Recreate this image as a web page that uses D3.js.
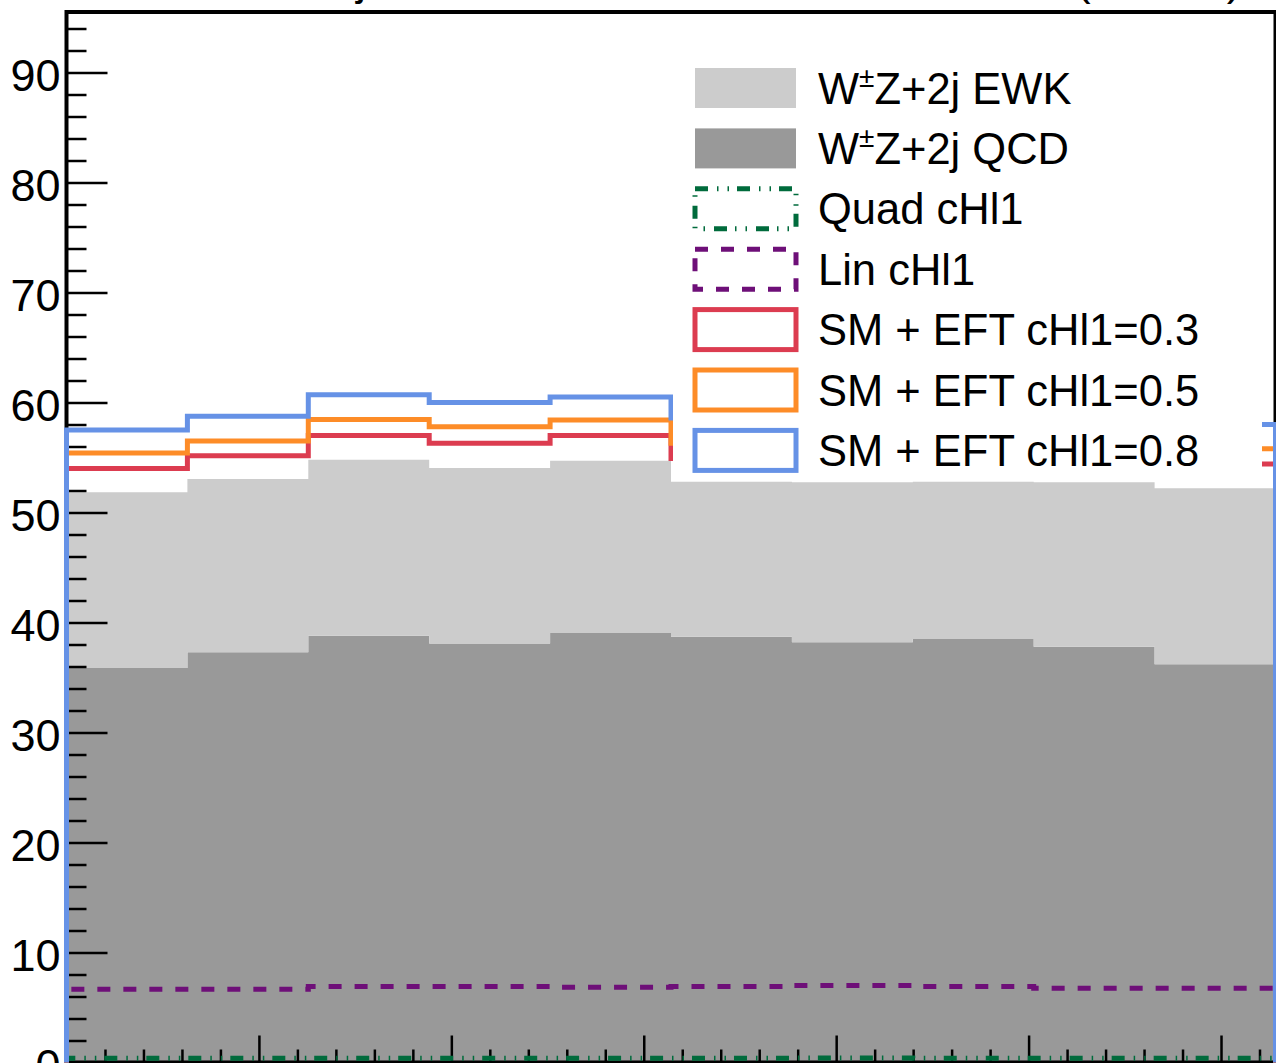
<!DOCTYPE html>
<html>
<head>
<meta charset="utf-8">
<script src="https://cdn.jsdelivr.net/npm/d3@7"></script>
<style>
  html, body { margin: 0; padding: 0; background: #fff; overflow: hidden; }
  svg { display: block; font-family: "Liberation Sans", Arial, Helvetica, sans-serif; }
</style>
</head>
<body>
<svg width="1276" height="1063"></svg>
<script>
// bins in phi, 0 .. 2pi
const nBins = 10;
const xMax = 2 * Math.PI;

const qcd = [35.86, 37.3, 38.8, 38.1, 39.05, 38.7, 38.2, 38.5, 37.8, 36.2];
const ewk = [15.99, 15.75, 16.0, 15.95, 15.65, 14.1, 14.55, 14.3, 14.95, 16.0];
const quad = [0.38, 0.38, 0.39, 0.39, 0.38, 0.39, 0.4, 0.39, 0.38, 0.38];
const lin = [6.65, 6.65, 6.9, 6.9, 6.85, 6.9, 7.0, 6.9, 6.75, 6.75];
const sm03 = [54.0, 55.15, 57.0, 56.3, 57.0, 54.9, 54.9, 54.9, 54.85, 54.4];
const sm05 = [55.4, 56.5, 58.45, 57.8, 58.4, 56.3, 56.4, 56.3, 56.2, 55.8];
const sm08 = [57.5, 58.75, 60.7, 60.0, 60.5, 58.6, 58.7, 58.6, 58.5, 58.0];

const yMajor = [0, 10, 20, 30, 40, 50, 60, 70, 80, 90];
const xMajor = [0, 1, 2, 3, 4, 5, 6];

const legendItems = [
  { label: "EWK", kind: "fill", color: "#cccccc" },
  { label: "QCD", kind: "fill", color: "#999999" },
  { label: "Quad cHl1", kind: "line", color: "#006b3c", dash: "13,9,1.5,9,1.5,8" },
  { label: "Lin cHl1", kind: "line", color: "#6e0f78", dash: "13,13" },
  { label: "SM + EFT cHl1=0.3", kind: "line", color: "#dc3c50" },
  { label: "SM + EFT cHl1=0.5", kind: "line", color: "#fd8c28" },
  { label: "SM + EFT cHl1=0.8", kind: "line", color: "#6692e6" },
];

const svg = d3.select("svg");

const padLeft = 66.5;
const padRight = 1275.5;
const padTop = 12;
const padBottom = 1062.5;

const x = d3.scaleLinear().domain([0, xMax]).range([padLeft, padRight]);
const y = d3.scaleLinear().domain([0, 95.5]).range([padBottom, padTop]);

const edges = d3.range(nBins + 1).map((i) => (i * xMax) / nBins);

function stepPoints(values) {
  const pts = [[0, 0]];
  values.forEach((v, i) => {
    pts.push([edges[i], v]);
    pts.push([edges[i + 1], v]);
  });
  pts.push([xMax, 0]);
  return pts;
}

// stacked fills
const table = qcd.map((q, i) => ({ qcd: q, ewk: ewk[i] }));
const stacked = d3.stack().keys(["qcd", "ewk"])(table);
const fillColors = { qcd: "#999999", ewk: "#cccccc" };

const area = d3
  .area()
  .x((d) => x(d.x))
  .y0((d) => y(d.y0))
  .y1((d) => y(d.y1));

stacked.forEach((layer) => {
  const pts = [];
  layer.forEach((d, i) => {
    pts.push({ x: edges[i], y0: d[0], y1: d[1] });
    pts.push({ x: edges[i + 1], y0: d[0], y1: d[1] });
  });
  svg
    .append("path")
    .attr("d", area(pts))
    .attr("fill", fillColors[layer.key]);
});

// axes
const yAxisMinor = d3
  .axisLeft(y)
  .tickValues(d3.range(0, 96, 2).filter((v) => v % 10 !== 0))
  .tickSize(-20)
  .tickFormat("");
const yAxisMajor = d3
  .axisLeft(y)
  .tickValues(yMajor)
  .tickSize(-41)
  .tickPadding(6)
  .tickFormat(d3.format("d"));

// x labels fall below the picture, so only the ticks are drawn
const xMinorVals = d3.range(0, xMax, 0.2).filter((v) => Math.abs(v - Math.round(v)) > 0.01);
const xAxisMinor = d3.axisBottom(x).tickValues(xMinorVals).tickSize(-13).tickFormat("");
const xAxisMajor = d3.axisBottom(x).tickValues(xMajor).tickSize(-27).tickFormat("");

function styleAxis(g) {
  g.select(".domain").remove();
  g.selectAll("line").attr("stroke", "#000").attr("stroke-width", 2.5);
  g.selectAll("text").attr("font-size", 45).attr("fill", "#000");
}

svg.append("g").attr("transform", `translate(${padLeft},0)`).call(yAxisMinor).call(styleAxis);
svg
  .append("g")
  .attr("transform", `translate(${padLeft},0)`)
  .call(yAxisMajor)
  .call(styleAxis)
  .call((g) => g.selectAll("text").attr("dy", "0.4em"));
svg.append("g").attr("transform", `translate(0,${padBottom})`).call(xAxisMinor).call(styleAxis);
svg.append("g").attr("transform", `translate(0,${padBottom})`).call(xAxisMajor).call(styleAxis);

// frame
svg
  .append("path")
  .attr("d", `M${padLeft},${padBottom}V${padTop}H${padRight}V${padBottom}Z`)
  .attr("fill", "none")
  .attr("stroke", "#000")
  .attr("stroke-width", 4);

// outline histograms
const line = d3
  .line()
  .x((d) => x(d[0]))
  .y((d) => y(d[1]));

const lineSeries = [
  { values: quad, item: legendItems[2] },
  { values: lin, item: legendItems[3] },
  { values: sm03, item: legendItems[4] },
  { values: sm05, item: legendItems[5] },
  { values: sm08, item: legendItems[6] },
];

lineSeries.forEach((s) => {
  svg
    .append("path")
    .attr("d", line(stepPoints(s.values)))
    .attr("fill", "none")
    .attr("stroke", s.item.color)
    .attr("stroke-width", 5)
    .attr("stroke-dasharray", s.item.dash || null);
});

// title remnant, mostly above the picture
svg
  .append("text")
  .attr("x", 366)
  .attr("y", -5)
  .attr("text-anchor", "end")
  .attr("font-size", 44)
  .text("W±Z+2j");
svg
  .append("text")
  .attr("x", 1076)
  .attr("y", -5)
  .attr("font-size", 44)
  .text("(13 TeV)");

// legend
const legend = svg.append("g");
legend
  .append("rect")
  .attr("x", 673)
  .attr("y", 40)
  .attr("width", 589)
  .attr("height", 438)
  .attr("fill", "#fff");

legendItems.forEach((item, i) => {
  const cy = 88 + i * 60.4;
  const box = legend
    .append("rect")
    .attr("x", 695)
    .attr("y", cy - 20)
    .attr("width", 101)
    .attr("height", 40);
  if (item.kind === "fill") {
    box.attr("fill", item.color);
  } else {
    box
      .attr("fill", "none")
      .attr("stroke", item.color)
      .attr("stroke-width", 5)
      .attr("stroke-dasharray", item.dash || null);
  }
  const t = legend
    .append("text")
    .attr("x", 818)
    .attr("y", cy + 15.5)
    .attr("font-size", 43.5)
    .attr("fill", "#000");
  if (item.kind === "fill") {
    t.append("tspan").text("W");
    t.append("tspan").attr("font-size", 28).attr("dy", -17).text("±");
    t.append("tspan").attr("dy", 17).text("Z+2j " + item.label);
  } else {
    t.text(item.label);
  }
});
</script>
</body>
</html>
